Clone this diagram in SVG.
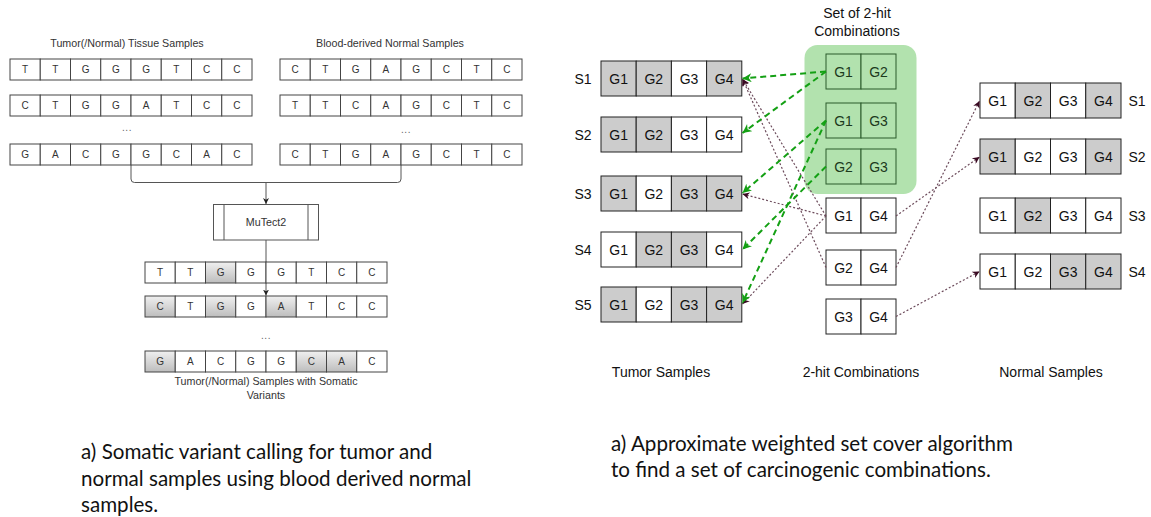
<svg xmlns="http://www.w3.org/2000/svg" width="1151" height="517" viewBox="0 0 1151 517">
  <defs>
    <linearGradient id="shade" x1="0" y1="0" x2="0" y2="1">
      <stop offset="0" stop-color="#f0f0f0"/>
      <stop offset="1" stop-color="#bdbdbd"/>
    </linearGradient>
    <marker id="arrowSmall" viewBox="0 0 10 10" refX="10" refY="5" markerWidth="6" markerHeight="6" markerUnits="userSpaceOnUse" orient="auto">
      <path d="M0,0 L10,5 L0,10 L3,5 Z" fill="#222"/>
    </marker>
    <marker id="arrowGreen" viewBox="0 0 10 10" refX="10" refY="5" markerWidth="10" markerHeight="9" markerUnits="userSpaceOnUse" orient="auto">
      <path d="M0,0 L10,5 L0,10 L3,5 Z" fill="#14a014"/>
    </marker>
    <marker id="arrowDot" viewBox="0 0 10 10" refX="10" refY="5" markerWidth="8" markerHeight="7" markerUnits="userSpaceOnUse" orient="auto">
      <path d="M0,0 L10,5 L0,10 L3,5 Z" fill="#3a0a22"/>
    </marker>
  </defs>
  <style>
    .seq rect { fill: #fff; stroke: #444; stroke-width: 1; }
    .seq rect.v { fill: url(#shade); }
    .seq text { font-family: "Liberation Sans", Arial, sans-serif; font-size: 10px; fill: #333; text-anchor: middle; }
    .cap { font-family: "Liberation Sans", Arial, sans-serif; font-size: 10.7px; fill: #333; text-anchor: middle; }
    .dots { font-family: "Liberation Sans", Arial, sans-serif; font-size: 10px; fill: #666; text-anchor: middle; letter-spacing: 0.5px; }
    .wire { fill: none; stroke: #555; stroke-width: 1; }
    .gene rect { fill: #fff; stroke: #222; stroke-width: 1; }
    .gene rect.on { fill: #cccccc; }
    .gene text, .lbl { font-family: "Liberation Sans", Arial, sans-serif; font-size: 14px; fill: #111; text-anchor: middle; }
    .combo rect { fill: #fff; stroke: #222; stroke-width: 1; }
    .combo.sel rect { fill: #b2e2ae; stroke: #2b5a2b; }
    .combo text { font-family: "Liberation Sans", Arial, sans-serif; font-size: 14px; fill: #111; text-anchor: middle; }
    .combo.sel text { fill: #1c3a1c; }
    .green { fill: none; stroke: #14a014; stroke-width: 2; stroke-dasharray: 6 4; marker-end: url(#arrowGreen); }
    .dot { fill: none; stroke: #6d4c5c; stroke-width: 1.2; stroke-dasharray: 2 2; marker-end: url(#arrowDot); }
    .note { font-family: Lato, "Noto Sans", sans-serif; font-size: 20.6px; fill: #111; }
  </style>

  <!-- ===== Somatic variant calling ===== -->
  <text class="cap" x="127" y="47">Tumor(/Normal) Tissue Samples</text>
  <text class="cap" x="390" y="47">Blood-derived Normal Samples</text>

  <g id="tumor-seq-1" class="seq" transform="translate(10,59)">
    <rect x="0" y="0" width="30.25" height="21"/><rect x="30.25" y="0" width="30.25" height="21"/><rect x="60.5" y="0" width="30.25" height="21"/><rect x="90.75" y="0" width="30.25" height="21"/><rect x="121" y="0" width="30.25" height="21"/><rect x="151.25" y="0" width="30.25" height="21"/><rect x="181.5" y="0" width="30.25" height="21"/><rect x="211.75" y="0" width="30.25" height="21"/>
    <text x="15.1" y="14">T</text><text x="45.4" y="14">T</text><text x="75.6" y="14">G</text><text x="105.9" y="14">G</text><text x="136.1" y="14">G</text><text x="166.4" y="14">T</text><text x="196.6" y="14">C</text><text x="226.9" y="14">C</text>
  </g>
  <g id="tumor-seq-2" class="seq" transform="translate(10,95)">
    <rect x="0" y="0" width="30.25" height="21"/><rect x="30.25" y="0" width="30.25" height="21"/><rect x="60.5" y="0" width="30.25" height="21"/><rect x="90.75" y="0" width="30.25" height="21"/><rect x="121" y="0" width="30.25" height="21"/><rect x="151.25" y="0" width="30.25" height="21"/><rect x="181.5" y="0" width="30.25" height="21"/><rect x="211.75" y="0" width="30.25" height="21"/>
    <text x="15.1" y="14">C</text><text x="45.4" y="14">T</text><text x="75.6" y="14">G</text><text x="105.9" y="14">G</text><text x="136.1" y="14">A</text><text x="166.4" y="14">T</text><text x="196.6" y="14">C</text><text x="226.9" y="14">C</text>
  </g>
  <text class="dots" x="127" y="131">...</text>
  <g id="tumor-seq-n" class="seq" transform="translate(10,144)">
    <rect x="0" y="0" width="30.25" height="21"/><rect x="30.25" y="0" width="30.25" height="21"/><rect x="60.5" y="0" width="30.25" height="21"/><rect x="90.75" y="0" width="30.25" height="21"/><rect x="121" y="0" width="30.25" height="21"/><rect x="151.25" y="0" width="30.25" height="21"/><rect x="181.5" y="0" width="30.25" height="21"/><rect x="211.75" y="0" width="30.25" height="21"/>
    <text x="15.1" y="14">G</text><text x="45.4" y="14">A</text><text x="75.6" y="14">C</text><text x="105.9" y="14">G</text><text x="136.1" y="14">G</text><text x="166.4" y="14">C</text><text x="196.6" y="14">A</text><text x="226.9" y="14">C</text>
  </g>

  <g id="blood-seq-1" class="seq" transform="translate(280,59)">
    <rect x="0" y="0" width="30.25" height="21"/><rect x="30.25" y="0" width="30.25" height="21"/><rect x="60.5" y="0" width="30.25" height="21"/><rect x="90.75" y="0" width="30.25" height="21"/><rect x="121" y="0" width="30.25" height="21"/><rect x="151.25" y="0" width="30.25" height="21"/><rect x="181.5" y="0" width="30.25" height="21"/><rect x="211.75" y="0" width="30.25" height="21"/>
    <text x="15.1" y="14">C</text><text x="45.4" y="14">T</text><text x="75.6" y="14">G</text><text x="105.9" y="14">A</text><text x="136.1" y="14">G</text><text x="166.4" y="14">C</text><text x="196.6" y="14">T</text><text x="226.9" y="14">C</text>
  </g>
  <g id="blood-seq-2" class="seq" transform="translate(280,95)">
    <rect x="0" y="0" width="30.25" height="21"/><rect x="30.25" y="0" width="30.25" height="21"/><rect x="60.5" y="0" width="30.25" height="21"/><rect x="90.75" y="0" width="30.25" height="21"/><rect x="121" y="0" width="30.25" height="21"/><rect x="151.25" y="0" width="30.25" height="21"/><rect x="181.5" y="0" width="30.25" height="21"/><rect x="211.75" y="0" width="30.25" height="21"/>
    <text x="15.1" y="14">T</text><text x="45.4" y="14">T</text><text x="75.6" y="14">C</text><text x="105.9" y="14">A</text><text x="136.1" y="14">G</text><text x="166.4" y="14">C</text><text x="196.6" y="14">T</text><text x="226.9" y="14">C</text>
  </g>
  <text class="dots" x="406" y="133">...</text>
  <g id="blood-seq-n" class="seq" transform="translate(280,144)">
    <rect x="0" y="0" width="30.25" height="21"/><rect x="30.25" y="0" width="30.25" height="21"/><rect x="60.5" y="0" width="30.25" height="21"/><rect x="90.75" y="0" width="30.25" height="21"/><rect x="121" y="0" width="30.25" height="21"/><rect x="151.25" y="0" width="30.25" height="21"/><rect x="181.5" y="0" width="30.25" height="21"/><rect x="211.75" y="0" width="30.25" height="21"/>
    <text x="15.1" y="14">C</text><text x="45.4" y="14">T</text><text x="75.6" y="14">G</text><text x="105.9" y="14">A</text><text x="136.1" y="14">G</text><text x="166.4" y="14">C</text><text x="196.6" y="14">T</text><text x="226.9" y="14">C</text>
  </g>

  <!-- merge bracket and caller wiring -->
  <g id="calling-wires">
    <path class="wire" d="M131,165 V179 Q131,182.5 134.5,182.5 H397.5 Q401,182.5 401,179 V165"/>
    <path class="wire" d="M266,182.5 V204" marker-end="url(#arrowSmall)"/>
    <path class="wire" d="M266,240 V295.5" marker-end="url(#arrowSmall)"/>
  </g>

  <g id="mutect2">
    <rect x="213.5" y="204.5" width="105" height="35.5" fill="#fff" stroke="#555" stroke-width="1"/>
    <line x1="224" y1="204.5" x2="224" y2="240" stroke="#555" stroke-width="1"/>
    <line x1="308" y1="204.5" x2="308" y2="240" stroke="#555" stroke-width="1"/>
    <text class="cap" x="266" y="226" font-size="11px">MuTect2</text>
  </g>

  <g id="variant-seq-1" class="seq" transform="translate(145,262)">
    <rect x="0" y="0" width="30.25" height="21"/><rect x="30.25" y="0" width="30.25" height="21"/><rect class="v" x="60.5" y="0" width="30.25" height="21"/><rect x="90.75" y="0" width="30.25" height="21"/><rect x="121" y="0" width="30.25" height="21"/><rect x="151.25" y="0" width="30.25" height="21"/><rect x="181.5" y="0" width="30.25" height="21"/><rect x="211.75" y="0" width="30.25" height="21"/>
    <text x="15.1" y="14">T</text><text x="45.4" y="14">T</text><text x="75.6" y="14">G</text><text x="105.9" y="14">G</text><text x="136.1" y="14">G</text><text x="166.4" y="14">T</text><text x="196.6" y="14">C</text><text x="226.9" y="14">C</text>
  </g>
  <g id="variant-seq-2" class="seq" transform="translate(145,296)">
    <rect class="v" x="0" y="0" width="30.25" height="21"/><rect x="30.25" y="0" width="30.25" height="21"/><rect class="v" x="60.5" y="0" width="30.25" height="21"/><rect x="90.75" y="0" width="30.25" height="21"/><rect class="v" x="121" y="0" width="30.25" height="21"/><rect x="151.25" y="0" width="30.25" height="21"/><rect x="181.5" y="0" width="30.25" height="21"/><rect x="211.75" y="0" width="30.25" height="21"/>
    <text x="15.1" y="14">C</text><text x="45.4" y="14">T</text><text x="75.6" y="14">G</text><text x="105.9" y="14">G</text><text x="136.1" y="14">A</text><text x="166.4" y="14">T</text><text x="196.6" y="14">C</text><text x="226.9" y="14">C</text>
  </g>
  <text class="dots" x="266" y="339">...</text>
  <g id="variant-seq-n" class="seq" transform="translate(145,351)">
    <rect class="v" x="0" y="0" width="30.25" height="21"/><rect x="30.25" y="0" width="30.25" height="21"/><rect x="60.5" y="0" width="30.25" height="21"/><rect x="90.75" y="0" width="30.25" height="21"/><rect x="121" y="0" width="30.25" height="21"/><rect class="v" x="151.25" y="0" width="30.25" height="21"/><rect class="v" x="181.5" y="0" width="30.25" height="21"/><rect x="211.75" y="0" width="30.25" height="21"/>
    <text x="15.1" y="14">G</text><text x="45.4" y="14">A</text><text x="75.6" y="14">C</text><text x="105.9" y="14">G</text><text x="136.1" y="14">G</text><text x="166.4" y="14">C</text><text x="196.6" y="14">A</text><text x="226.9" y="14">C</text>
  </g>
  <text class="cap" x="266" y="385">Tumor(/Normal) Samples with Somatic</text>
  <text class="cap" x="266" y="398.5">Variants</text>

  <!-- ===== Weighted set cover ===== -->
  <text class="lbl" x="857" y="18">Set of 2-hit</text>
  <text class="lbl" x="857" y="36">Combinations</text>
  <rect id="selected-set" x="804.5" y="45" width="112" height="149" rx="13" ry="13" fill="#b2e2ae"/>

  <!-- tumor samples -->
  <g id="tumor-S1" class="gene" transform="translate(601,61)">
    <rect class="on" x="0" y="0" width="35.2" height="35"/><rect class="on" x="35.2" y="0" width="35.2" height="35"/><rect x="70.4" y="0" width="35.2" height="35"/><rect class="on" x="105.6" y="0" width="35.2" height="35"/>
    <text x="17.6" y="22.5">G1</text><text x="52.8" y="22.5">G2</text><text x="88" y="22.5">G3</text><text x="123.2" y="22.5">G4</text>
    <text x="-18" y="22.5">S1</text>
  </g>
  <g id="tumor-S2" class="gene" transform="translate(601,117)">
    <rect class="on" x="0" y="0" width="35.2" height="35"/><rect class="on" x="35.2" y="0" width="35.2" height="35"/><rect x="70.4" y="0" width="35.2" height="35"/><rect x="105.6" y="0" width="35.2" height="35"/>
    <text x="17.6" y="22.5">G1</text><text x="52.8" y="22.5">G2</text><text x="88" y="22.5">G3</text><text x="123.2" y="22.5">G4</text>
    <text x="-18" y="22.5">S2</text>
  </g>
  <g id="tumor-S3" class="gene" transform="translate(601,176)">
    <rect class="on" x="0" y="0" width="35.2" height="35"/><rect x="35.2" y="0" width="35.2" height="35"/><rect class="on" x="70.4" y="0" width="35.2" height="35"/><rect class="on" x="105.6" y="0" width="35.2" height="35"/>
    <text x="17.6" y="22.5">G1</text><text x="52.8" y="22.5">G2</text><text x="88" y="22.5">G3</text><text x="123.2" y="22.5">G4</text>
    <text x="-18" y="22.5">S3</text>
  </g>
  <g id="tumor-S4" class="gene" transform="translate(601,232)">
    <rect x="0" y="0" width="35.2" height="35"/><rect class="on" x="35.2" y="0" width="35.2" height="35"/><rect class="on" x="70.4" y="0" width="35.2" height="35"/><rect x="105.6" y="0" width="35.2" height="35"/>
    <text x="17.6" y="22.5">G1</text><text x="52.8" y="22.5">G2</text><text x="88" y="22.5">G3</text><text x="123.2" y="22.5">G4</text>
    <text x="-18" y="22.5">S4</text>
  </g>
  <g id="tumor-S5" class="gene" transform="translate(601,287)">
    <rect class="on" x="0" y="0" width="35.2" height="35"/><rect x="35.2" y="0" width="35.2" height="35"/><rect class="on" x="70.4" y="0" width="35.2" height="35"/><rect class="on" x="105.6" y="0" width="35.2" height="35"/>
    <text x="17.6" y="22.5">G1</text><text x="52.8" y="22.5">G2</text><text x="88" y="22.5">G3</text><text x="123.2" y="22.5">G4</text>
    <text x="-18" y="22.5">S5</text>
  </g>

  <!-- 2-hit combinations -->
  <g id="combo-G1G2" class="combo sel" transform="translate(826,54)">
    <rect x="0" y="0" width="35" height="35"/><rect x="35" y="0" width="35" height="35"/>
    <text x="17.5" y="22.5">G1</text><text x="52.5" y="22.5">G2</text>
  </g>
  <g id="combo-G1G3" class="combo sel" transform="translate(826,103)">
    <rect x="0" y="0" width="35" height="35"/><rect x="35" y="0" width="35" height="35"/>
    <text x="17.5" y="22.5">G1</text><text x="52.5" y="22.5">G3</text>
  </g>
  <g id="combo-G2G3" class="combo sel" transform="translate(826,149)">
    <rect x="0" y="0" width="35" height="35"/><rect x="35" y="0" width="35" height="35"/>
    <text x="17.5" y="22.5">G2</text><text x="52.5" y="22.5">G3</text>
  </g>
  <g id="combo-G1G4" class="combo" transform="translate(826,198)">
    <rect x="0" y="0" width="35" height="35"/><rect x="35" y="0" width="35" height="35"/>
    <text x="17.5" y="22.5">G1</text><text x="52.5" y="22.5">G4</text>
  </g>
  <g id="combo-G2G4" class="combo" transform="translate(826,250)">
    <rect x="0" y="0" width="35" height="35"/><rect x="35" y="0" width="35" height="35"/>
    <text x="17.5" y="22.5">G2</text><text x="52.5" y="22.5">G4</text>
  </g>
  <g id="combo-G3G4" class="combo" transform="translate(826,299)">
    <rect x="0" y="0" width="35" height="35"/><rect x="35" y="0" width="35" height="35"/>
    <text x="17.5" y="22.5">G3</text><text x="52.5" y="22.5">G4</text>
  </g>

  <!-- normal samples -->
  <g id="normal-S1" class="gene" transform="translate(980,83)">
    <rect x="0" y="0" width="35.25" height="35"/><rect class="on" x="35.25" y="0" width="35.25" height="35"/><rect x="70.5" y="0" width="35.25" height="35"/><rect class="on" x="105.75" y="0" width="35.25" height="35"/>
    <text x="17.6" y="22.5">G1</text><text x="52.9" y="22.5">G2</text><text x="88.1" y="22.5">G3</text><text x="123.4" y="22.5">G4</text>
    <text x="157" y="22.5">S1</text>
  </g>
  <g id="normal-S2" class="gene" transform="translate(980,139)">
    <rect class="on" x="0" y="0" width="35.25" height="35"/><rect x="35.25" y="0" width="35.25" height="35"/><rect x="70.5" y="0" width="35.25" height="35"/><rect class="on" x="105.75" y="0" width="35.25" height="35"/>
    <text x="17.6" y="22.5">G1</text><text x="52.9" y="22.5">G2</text><text x="88.1" y="22.5">G3</text><text x="123.4" y="22.5">G4</text>
    <text x="157" y="22.5">S2</text>
  </g>
  <g id="normal-S3" class="gene" transform="translate(980,198)">
    <rect x="0" y="0" width="35.25" height="35"/><rect class="on" x="35.25" y="0" width="35.25" height="35"/><rect x="70.5" y="0" width="35.25" height="35"/><rect x="105.75" y="0" width="35.25" height="35"/>
    <text x="17.6" y="22.5">G1</text><text x="52.9" y="22.5">G2</text><text x="88.1" y="22.5">G3</text><text x="123.4" y="22.5">G4</text>
    <text x="157" y="22.5">S3</text>
  </g>
  <g id="normal-S4" class="gene" transform="translate(980,254)">
    <rect x="0" y="0" width="35.25" height="35"/><rect x="35.25" y="0" width="35.25" height="35"/><rect class="on" x="70.5" y="0" width="35.25" height="35"/><rect class="on" x="105.75" y="0" width="35.25" height="35"/>
    <text x="17.6" y="22.5">G1</text><text x="52.9" y="22.5">G2</text><text x="88.1" y="22.5">G3</text><text x="123.4" y="22.5">G4</text>
    <text x="157" y="22.5">S4</text>
  </g>

  <!-- coverage connectors -->
  <g id="connectors">
    <path class="dot" d="M826,216 L742.5,79"/>
    <path class="dot" d="M826,267.5 L742.5,79"/>
    <path class="dot" d="M826,216 L742.5,194"/>
    <path class="dot" d="M826,216 L742.5,304"/>
    <path class="dot" d="M896,216 L979.5,157"/>
    <path class="dot" d="M896,267.5 L979.5,101"/>
    <path class="dot" d="M896,316.5 L979.5,271.5"/>
    <path class="green" d="M826,71.5 L742.5,78.5"/>
    <path class="green" d="M826,71.5 L742.5,133"/>
    <path class="green" d="M826,120.5 L742.5,193"/>
    <path class="green" d="M826,120.5 L742.5,303"/>
    <path class="green" d="M826,166.5 L742.5,249.5"/>
  </g>

  <text class="lbl" x="661" y="377">Tumor Samples</text>
  <text class="lbl" x="861" y="377">2-hit Combinations</text>
  <text class="lbl" x="1051" y="377">Normal Samples</text>

  <!-- captions -->
  <text class="note" x="81" y="459">a) Somatic variant calling for tumor and</text>
  <text class="note" x="81" y="486">normal samples using blood derived normal</text>
  <text class="note" x="81" y="512">samples.</text>
  <text class="note" x="611" y="451">a) Approximate weighted set cover algorithm</text>
  <text class="note" x="611" y="477">to find a set of carcinogenic combinations.</text>
</svg>
